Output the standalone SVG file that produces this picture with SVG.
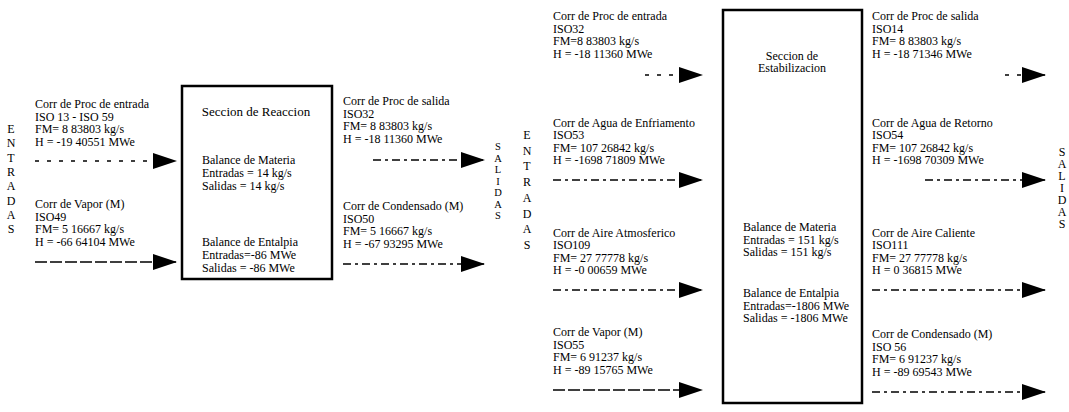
<svg xmlns="http://www.w3.org/2000/svg" width="1069" height="412" viewBox="0 0 1069 412">
<style>
text{font-family:"Liberation Serif","Times New Roman",serif;font-size:12px;fill:#000}
.v{text-anchor:middle}
.s{font-size:10.5px}
.c{text-anchor:middle}
.tt{font-size:13px}
.box{fill:#fff;stroke:#000;stroke-width:2.5}
.ln{fill:none;stroke:#000;stroke-width:1.3;marker-end:url(#ah)}
.da{stroke-dasharray:8 4 3 4}
.db{stroke-dasharray:12 3}
.dc{stroke-dasharray:4 8}
</style>
<defs>
<marker id="ah" markerUnits="userSpaceOnUse" markerWidth="24" markerHeight="16" refX="23" refY="8" orient="auto"><path d="M0,0 L24,8 L0,16 z" fill="#000"/></marker>
</defs>
<rect width="1069" height="412" fill="#fff"/>

<g id="label-entradas-1"><text class="v"><tspan x="11" y="133">E</tspan><tspan x="11" y="147.3">N</tspan><tspan x="11" y="161.6">T</tspan><tspan x="11" y="175.9">R</tspan><tspan x="11" y="190.2">A</tspan><tspan x="11" y="204.5">D</tspan><tspan x="11" y="218.8">A</tspan><tspan x="11" y="233.1">S</tspan></text></g>

<g id="in-proc-entrada">
<text x="35" y="108">Corr de Proc de entrada</text>
<text x="35" y="120.5">ISO 13 - ISO 59</text>
<text x="35" y="133">FM= 8 83803 kg/s</text>
<text x="35" y="145.5">H = -19 40551 MWe</text>
</g>
<g id="in-vapor">
<text x="35" y="208">Corr de Vapor (M)</text>
<text x="35" y="220.5">ISO49</text>
<text x="35" y="233">FM= 5 16667 kg/s</text>
<text x="35" y="245.5">H = -66 64104 MWe</text>
</g>

<g id="seccion-reaccion">
<rect class="box" x="182" y="86" width="150" height="193"/>
<text class="c tt" x="256" y="116">Seccion de Reaccion</text>
<text x="202" y="164">Balance de Materia</text>
<text x="202" y="177">Entradas = 14 kg/s</text>
<text x="202" y="190">Salidas = 14 kg/s</text>
<text x="202" y="246">Balance de Entalpia</text>
<text x="202" y="259">Entradas=-86 MWe</text>
<text x="202" y="272">Salidas = -86 MWe</text>
</g>

<g id="out-proc-salida">
<text x="343" y="105">Corr de Proc de salida</text>
<text x="343" y="117.5">ISO32</text>
<text x="343" y="130">FM= 8 83803 kg/s</text>
<text x="343" y="142.5">H = -18 11360 MWe</text>
</g>
<g id="out-condensado">
<text x="343" y="210">Corr de Condensado (M)</text>
<text x="343" y="222.5">ISO50</text>
<text x="343" y="235">FM= 5 16667 kg/s</text>
<text x="343" y="247.5">H = -67 93295 MWe</text>
</g>

<g id="label-salidas-1"><text class="v s"><tspan x="498" y="150">S</tspan><tspan x="498" y="161.5">A</tspan><tspan x="498" y="173">L</tspan><tspan x="498" y="184.5">I</tspan><tspan x="498" y="196">D</tspan><tspan x="498" y="207.5">A</tspan><tspan x="498" y="219">S</tspan></text></g>

<g id="label-entradas-2"><text class="v"><tspan x="527" y="139">E</tspan><tspan x="527" y="154.7">N</tspan><tspan x="527" y="170.4">T</tspan><tspan x="527" y="186.1">R</tspan><tspan x="527" y="201.8">A</tspan><tspan x="527" y="217.5">D</tspan><tspan x="527" y="233.2">A</tspan><tspan x="527" y="248.9">S</tspan></text></g>

<g id="in2-proc">
<text x="553" y="20">Corr de Proc de entrada</text>
<text x="553" y="32.5">ISO32</text>
<text x="553" y="45">FM=8 83803 kg/s</text>
<text x="553" y="57.5">H = -18 11360 MWe</text>
</g>
<g id="in2-agua">
<text x="553" y="126.5">Corr de Agua de Enfriamento</text>
<text x="553" y="139">ISO53</text>
<text x="553" y="151.5">FM= 107 26842 kg/s</text>
<text x="553" y="164">H = -1698 71809 MWe</text>
</g>
<g id="in2-aire">
<text x="553" y="236.5">Corr de Aire Atmosferico</text>
<text x="553" y="249">ISO109</text>
<text x="553" y="261.5">FM= 27 77778 kg/s</text>
<text x="553" y="274">H = -0 00659 MWe</text>
</g>
<g id="in2-vapor">
<text x="553" y="336">Corr de Vapor (M)</text>
<text x="553" y="348.5">ISO55</text>
<text x="553" y="361">FM= 6 91237 kg/s</text>
<text x="553" y="373.5">H = -89 15765 MWe</text>
</g>

<g id="seccion-estabilizacion">
<rect class="box" x="723" y="10" width="139" height="393"/>
<text class="c" x="792" y="60">Seccion de</text>
<text class="c" x="792" y="72">Estabilizacion</text>
<text x="743" y="231">Balance de Materia</text>
<text x="743" y="243.5">Entradas = 151 kg/s</text>
<text x="743" y="256">Salidas = 151 kg/s</text>
<text x="743" y="297">Balance de Entalpia</text>
<text x="743" y="309.5">Entradas=-1806 MWe</text>
<text x="743" y="322">Salidas = -1806 MWe</text>
</g>

<g id="out2-proc">
<text x="872" y="20">Corr de Proc de salida</text>
<text x="872" y="32.5">ISO14</text>
<text x="872" y="45">FM= 8 83803 kg/s</text>
<text x="872" y="57.5">H = -18 71346 MWe</text>
</g>
<g id="out2-agua">
<text x="872" y="126.5">Corr de Agua de Retorno</text>
<text x="872" y="139">ISO54</text>
<text x="872" y="151.5">FM= 107 26842 kg/s</text>
<text x="872" y="164">H = -1698 70309 MWe</text>
</g>
<g id="out2-aire">
<text x="872" y="236.5">Corr de Aire Caliente</text>
<text x="872" y="249">ISO111</text>
<text x="872" y="261.5">FM= 27 77778 kg/s</text>
<text x="872" y="274">H = 0 36815 MWe</text>
</g>
<g id="out2-condensado">
<text x="872" y="338">Corr de Condensado (M)</text>
<text x="872" y="350.5">ISO 56</text>
<text x="872" y="363">FM= 6 91237 kg/s</text>
<text x="872" y="375.5">H = -89 69543 MWe</text>
</g>

<g id="label-salidas-2"><text class="v"><tspan x="1062" y="156">S</tspan><tspan x="1062" y="168">A</tspan><tspan x="1062" y="180">L</tspan><tspan x="1062" y="192">I</tspan><tspan x="1062" y="204">D</tspan><tspan x="1062" y="216">A</tspan><tspan x="1062" y="228">S</tspan></text></g>

<g id="connectors">
<path class="ln dc" d="M35,161 H176"/>
<path class="ln db" d="M35,262 H176"/>
<path class="ln da" d="M373,160 H484"/>
<path class="ln da" d="M343,264 H484"/>
<path class="ln dc" d="M645,75 H702"/>
<path class="ln da" d="M553,180 H702"/>
<path class="ln da" d="M553,290 H702"/>
<path class="ln db" d="M553,390 H702"/>
<path class="ln dc" d="M1005,75 H1045"/>
<path class="ln da" d="M925,180 H1045"/>
<path class="ln da" d="M872,290 H1045"/>
<path class="ln da" d="M872,392 H1045"/>
</g>
</svg>
